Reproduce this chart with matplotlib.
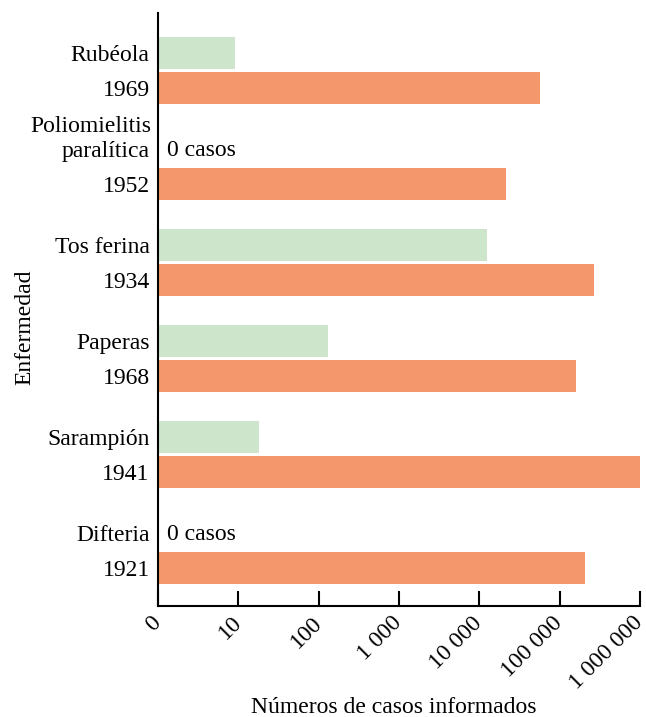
import matplotlib
matplotlib.use("Agg")
import matplotlib.pyplot as plt
import matplotlib.ticker as ticker
import matplotlib.transforms as mtrans

plt.rcParams["font.family"] = ["Liberation Serif", "DejaVu Serif"]

# datos (de arriba hacia abajo)
enfermedades = ["Rubéola", "paralítica", "Tos ferina", "Paperas", "Sarampión", "Difteria"]
anios = ["1969", "1952", "1934", "1968", "1941", "1921"]
casos_anio = [57686, 21269, 265269, 160000, 1000000, 206939]
casos_actual = [9, 0, 12500, 130, 18, 0]   # 0 -> "0 casos"

tick_vals = [1, 10, 100, 1000, 10000, 100000, 1000000]
tick_labels = ["0", "10", "100", "1 000", "10 000", "100 000", "1 000 000"]

ORANGE = "#f5976c"
GREEN = "#cde6cb"
FS = 17

fig = plt.figure(figsize=(6.46, 7.17), dpi=100)
ax = fig.add_axes([0.2446, 0.1548, 0.7461, 0.8271])

off = 0.365
h = 0.333
pos_anio = list(range(len(anios)))
pos_enf = [p - off for p in pos_anio]

# el eje empieza en 1 ("0"), así que la barra va de 1 a v
ax.barh(pos_anio, [v - 1 for v in casos_anio], height=h, left=1, color=ORANGE)
for p, v in zip(pos_enf, casos_actual):
    if v > 0:
        ax.barh(p, v - 1, height=h, left=1, color=GREEN)
    else:
        ax.text(1.3, p + 0.02, "0 casos", fontsize=FS, va="center", ha="left")

ax.set_xscale("log")
ax.set_xlim(1, 1e6)
ax.set_ylim(5.396, -0.78)

ax.set_xticks(tick_vals)
ax.set_xticklabels(tick_labels, rotation=45, ha="right", va="center",
                   rotation_mode="anchor", fontsize=FS)
ax.xaxis.set_minor_locator(ticker.NullLocator())
ax.tick_params(axis="x", direction="in", length=11, width=1.5, pad=10)

ax.set_yticks(pos_enf + pos_anio)
ax.set_yticklabels(enfermedades + anios, fontsize=FS)
ax.tick_params(axis="y", length=0, pad=6)

# primera línea de "Poliomielitis paralítica"
trans = mtrans.blended_transform_factory(ax.transAxes, ax.transData)
ax.text(-0.0145, pos_enf[1] - 0.23, "Poliomielitis", fontsize=FS, ha="right", va="center",
        transform=trans)

for s in ["top", "right"]:
    ax.spines[s].set_visible(False)
for s in ["left", "bottom"]:
    ax.spines[s].set_linewidth(1.5)

ax.set_xlabel("Números de casos informados", fontsize=FS)
ax.xaxis.set_label_coords(0.49, -0.153)
ax.set_ylabel("Enfermedad", fontsize=FS)
ax.yaxis.set_label_coords(-0.255, 0.47)

fig.savefig("out.png", dpi=100)
